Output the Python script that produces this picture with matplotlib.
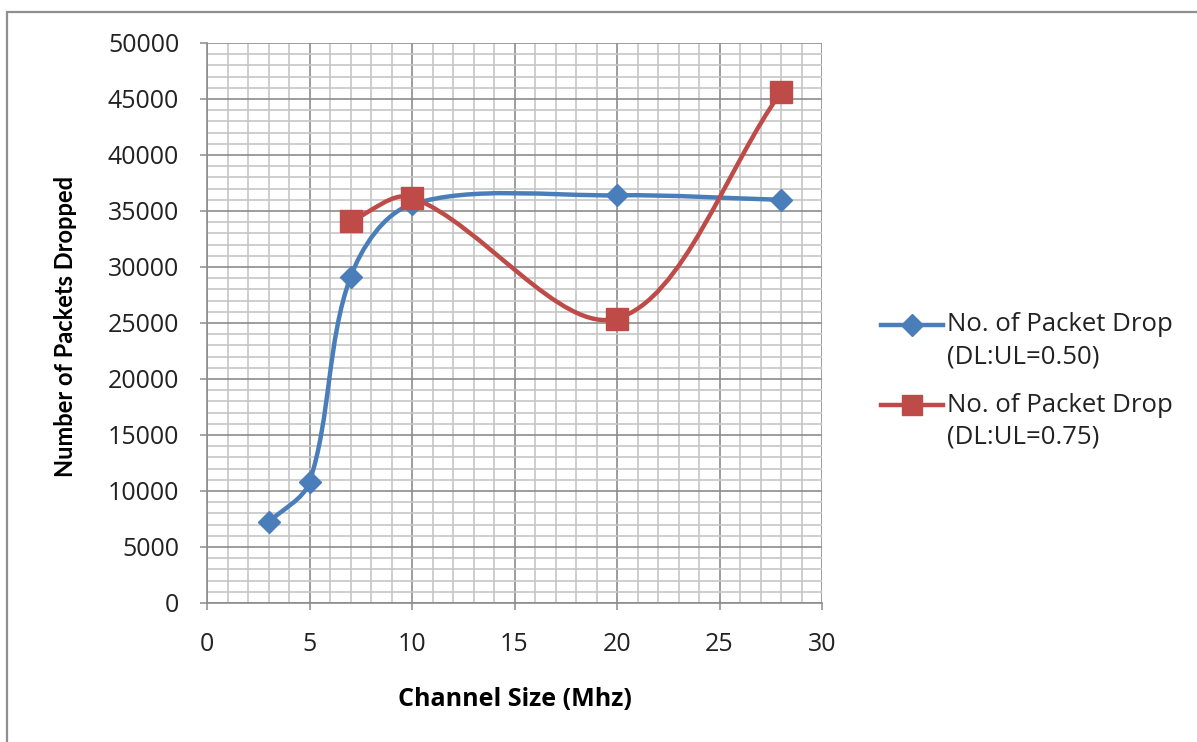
import numpy as np
import matplotlib
matplotlib.use("Agg")
import matplotlib.pyplot as plt
from matplotlib.path import Path
from matplotlib.patches import PathPatch, Rectangle
from matplotlib.lines import Line2D
from matplotlib.ticker import MultipleLocator

# channel size (MHz) vs. packets dropped
ch_050 = [3, 5, 7, 10, 20, 28]
drop_050 = [7200, 10800, 29100, 35600, 36400, 36000]
ch_075 = [7, 10, 20, 28]
drop_075 = [34100, 36200, 25400, 45600]

series_names = ["No. of Packet Drop", "No. of Packet Drop"]
series_ratios = ["(DL:UL=0.50)", "(DL:UL=0.75)"]
BLUE, RED = "#4a7ebb", "#be4b48"
GRID_MAJ, GRID_MIN = "#8c8c8c", "#c6c6c6"
FONT = ["Open Sans", "DejaVu Sans"]


def smooth_path(ax, x, y, f=1 / 3):
    """Spreadsheet-style smoothed line; tangents weighted by on-screen segment length."""
    pts = ax.transData.transform(np.column_stack([x, y]).astype(float))
    n = len(pts)
    verts, codes = [pts[0]], [Path.MOVETO]
    for i in range(n - 1):
        p0 = pts[i - 1] if i > 0 else pts[i]
        p1, p2 = pts[i], pts[i + 1]
        p3 = pts[i + 2] if i + 2 < n else pts[i + 1]
        d01, d12, d23 = (np.hypot(*(b - a)) for a, b in ((p0, p1), (p1, p2), (p2, p3)))
        c1 = p1 + (p2 - p0) * f * d12 / (d01 + d12)
        c2 = p2 - (p3 - p1) * f * d12 / (d12 + d23)
        verts += [c1, c2, p2]
        codes += [Path.CURVE4] * 3
    data = ax.transData.inverted().transform(np.array(verts))
    return Path(data, codes)


fig = plt.figure(figsize=(11.97, 7.42), dpi=100)
fig.patches.append(Rectangle((7 / 1197, -0.2), 1.2, 1.2 - 12 / 742,
                             transform=fig.transFigure, fill=False,
                             edgecolor="#8f8f8f", lw=1.6, zorder=0))

ax = fig.add_axes([207 / 1197, 139 / 742, 615 / 1197, 560 / 742])
ax.set_xlim(0, 30)
ax.set_ylim(0, 50000)
ax.xaxis.set_major_locator(MultipleLocator(5))
ax.xaxis.set_minor_locator(MultipleLocator(1))
ax.yaxis.set_major_locator(MultipleLocator(5000))
ax.yaxis.set_minor_locator(MultipleLocator(1000))
ax.grid(True, which="minor", color=GRID_MIN, lw=1.2, zorder=0)
ax.grid(True, which="major", color=GRID_MAJ, lw=1.2, zorder=0)
ax.set_axisbelow(True)
for sp in ("top", "right"):
    ax.spines[sp].set_visible(False)
for sp in ("left", "bottom"):
    ax.spines[sp].set_color(GRID_MAJ)
    ax.spines[sp].set_linewidth(1.2)
ax.tick_params(which="major", length=5, width=1.1, color=GRID_MAJ,
               labelsize=18, labelcolor="#222222")
ax.tick_params(axis="y", which="major", pad=15)
ax.tick_params(axis="x", which="major", pad=16)
ax.tick_params(which="minor", length=0)
for lab in ax.get_xticklabels() + ax.get_yticklabels():
    lab.set_family(FONT)

for x, y, color in ((ch_050, drop_050, BLUE), (ch_075, drop_075, RED)):
    ax.add_patch(PathPatch(smooth_path(ax, x, y), fill=False, edgecolor=color,
                           lw=3.2, capstyle="round", joinstyle="round", zorder=3))
ax.plot(ch_050, drop_050, ls="none", marker="D", ms=11, color=BLUE, zorder=4)
ax.plot(ch_075, drop_075, ls="none", marker="s", ms=16, color=RED, zorder=4)

fig.text(515 / 1197, 1 - 700 / 742, "Channel Size (Mhz)", ha="center", va="center",
         fontsize=18, fontweight="bold", family=FONT)
fig.text(66 / 1197, 1 - 326 / 742, "Number of Packets Dropped", ha="center", va="center",
         rotation=90, fontsize=17, fontweight="bold", family=["Lato", "DejaVu Sans"])

# legend: key line level with the first text line of each entry
for row, (name, ratio, color, mk, ms) in enumerate(zip(
        series_names, series_ratios, (BLUE, RED), ("D", "s"), (11, 15))):
    yk = 1 - (325 + 80 * row) / 742
    fig.add_artist(Line2D([881 / 1197, 943 / 1197], [yk, yk], transform=fig.transFigure,
                          color=color, lw=3.2))
    fig.add_artist(Line2D([912 / 1197], [yk], transform=fig.transFigure,
                          color=color, marker=mk, ms=ms, ls="none"))
    fig.text(947 / 1197, yk, name, ha="left", va="center", fontsize=18.5,
             family=FONT, color="#222222")
    fig.text(947 / 1197, yk - 32 / 742, ratio, ha="left", va="center", fontsize=18.5,
             family=FONT, color="#222222")

fig.savefig("out.png", dpi=100, facecolor="white")
